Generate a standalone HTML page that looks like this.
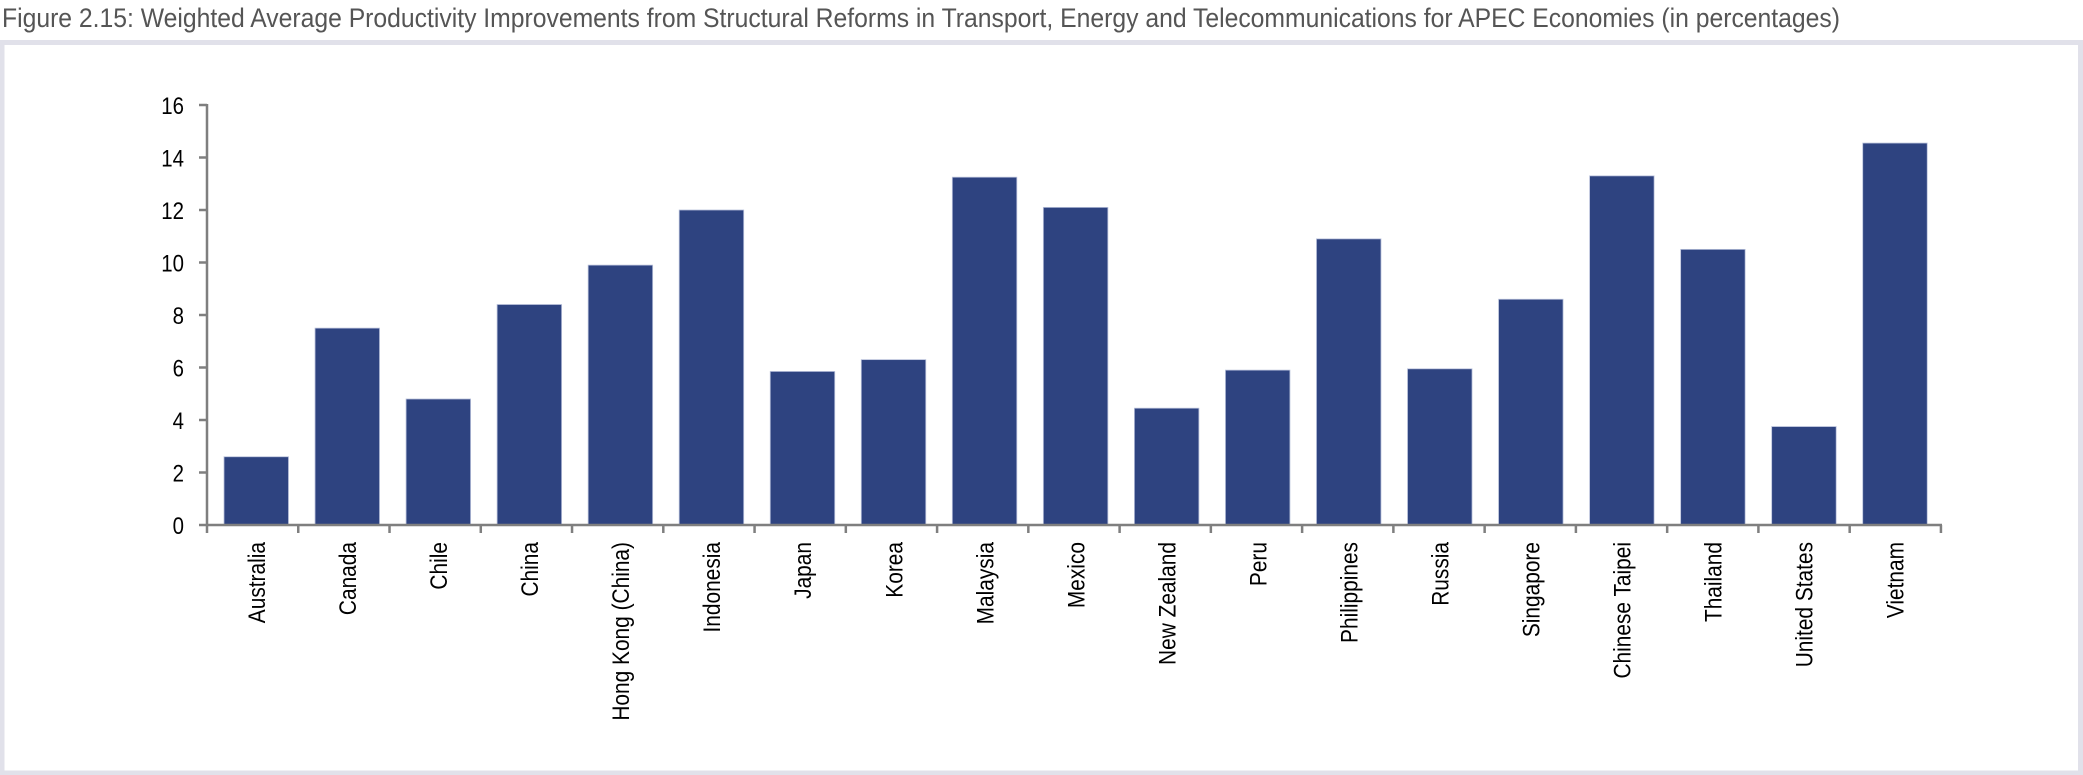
<!DOCTYPE html>
<html><head><meta charset="utf-8"><style>
html,body{margin:0;padding:0;background:#fff;}
svg{display:block;}
</style></head><body>
<svg width="2083" height="775" viewBox="0 0 2083 775" xmlns="http://www.w3.org/2000/svg">
<rect x="0" y="0" width="2083" height="775" fill="#fff"/>
<text x="2" y="27" font-family="Liberation Sans, sans-serif" font-size="27" fill="#555" textLength="1838" lengthAdjust="spacingAndGlyphs">Figure 2.15: Weighted Average Productivity Improvements from Structural Reforms in Transport, Energy and Telecommunications for APEC Economies (in percentages)</text>
<rect x="2" y="42.5" width="2078.5" height="730.5" fill="#fff" stroke="#e1e1ea" stroke-width="5"/>
<g font-family="Liberation Sans, sans-serif" font-size="24" fill="#000" text-anchor="end">
<g transform="translate(184,0) scale(0.85,1)">
<text x="0" y="114">16</text><text x="0" y="166.5">14</text><text x="0" y="219">12</text><text x="0" y="271.5">10</text><text x="0" y="324">8</text><text x="0" y="376.5">6</text><text x="0" y="429">4</text><text x="0" y="481.5">2</text><text x="0" y="534">0</text>
</g>
</g>
<g id="bars" fill="#2e4380" stroke="#b8c0da" stroke-width="0.8"></g>
<g stroke="#7f7f7f" stroke-width="2.5" fill="none" id="axes">
<line x1="207" y1="104" x2="207" y2="526"/>
<line x1="206" y1="525" x2="1942" y2="525"/>
</g>
<g id="labels" font-family="Liberation Sans, sans-serif" font-size="24" fill="#000" text-anchor="end"></g>
<script>
var vals=[2.6,7.5,4.8,8.4,9.9,12.0,5.85,6.3,13.25,12.1,4.45,5.9,10.9,5.95,8.6,13.3,10.5,3.75,14.55];
var names=["Australia","Canada","Chile","China","Hong Kong (China)","Indonesia","Japan","Korea","Malaysia","Mexico","New Zealand","Peru","Philippines","Russia","Singapore","Chinese Taipei","Thailand","United States","Vietnam"];
var ns="http://www.w3.org/2000/svg";
var bars=document.getElementById("bars"),ax=document.getElementById("axes"),lb=document.getElementById("labels");
for(var t=0;t<=8;t++){var l=document.createElementNS(ns,"line");var y=525-t*52.5;l.setAttribute("x1",199);l.setAttribute("x2",207);l.setAttribute("y1",y);l.setAttribute("y2",y);ax.appendChild(l);}
for(var i=0;i<=19;i++){var l=document.createElementNS(ns,"line");var x=207+i*91.26;l.setAttribute("x1",x);l.setAttribute("x2",x);l.setAttribute("y1",525);l.setAttribute("y2",533);ax.appendChild(l);}
for(var i=0;i<19;i++){var x=224+i*91.04;var h=vals[i]*26.25;var r=document.createElementNS(ns,"rect");r.setAttribute("x",x);r.setAttribute("y",525-h);r.setAttribute("width",64.5);r.setAttribute("height",h);bars.appendChild(r);
var tx=document.createElementNS(ns,"text");var cx=x+32+9;tx.setAttribute("transform","translate("+cx+",542) rotate(-90) scale(0.87,1)");tx.textContent=names[i];lb.appendChild(tx);}
</script>
</svg>
</body></html>
